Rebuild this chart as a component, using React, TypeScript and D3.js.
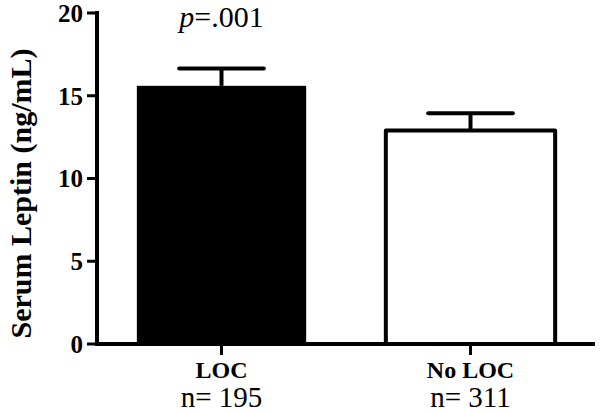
import React from 'react';
import * as d3 from 'd3';

const GROUPS = ['LOC', 'No LOC'];
const SAMPLE_SIZES = ['n= 195', 'n= 311'];
const MEANS = [15.6, 12.9];
const SEMS = [1.05, 1.05];
const FILLS = ['#000000', '#ffffff'];
const Y_TICKS = [0, 5, 10, 15, 20];
const P_LABEL = '=.001';

const W = 600, H = 413;
const m = { t: 13, r: 5, b: 69, l: 97 };
const FONT = "'Liberation Serif', 'Times New Roman', Times, serif";

export default function App() {
  const x = d3.scaleBand<string>().domain(GROUPS).range([m.l, W - m.r]).paddingInner(0.32).paddingOuter(0.16);
  const y = d3.scaleLinear().domain([0, 20]).range([H - m.b, m.t]);
  const bw = x.bandwidth();
  const capHalf = bw * 0.25;

  return (
    <svg width={W} height={H} style={{ position: 'absolute', left: 0, top: 0, background: '#fff' }} fontFamily={FONT}>
      {/* y axis label */}
      <text transform={`translate(31,${(m.t + H - m.b) / 2 + 15}) rotate(-90)`} textAnchor="middle" fontWeight="bold" fontSize={30}>
        Serum Leptin (ng/mL)
      </text>

      {/* bars with error bars */}
      {GROUPS.map((g, i) => {
        const x0 = x(g)!;
        const cx = x0 + bw / 2;
        const isFilled = FILLS[i] === '#000000';
        return (
          <g key={g}>
            <line x1={cx} x2={cx} y1={y(MEANS[i])} y2={y(MEANS[i] + SEMS[i])} stroke="#000" strokeWidth={4} />
            <line x1={cx - capHalf} x2={cx + capHalf} y1={y(MEANS[i] + SEMS[i])} y2={y(MEANS[i] + SEMS[i])}
              stroke="#000" strokeWidth={4} strokeLinecap="round" />
            <rect x={x0} y={y(MEANS[i])} width={bw} height={y(0) - y(MEANS[i])}
              fill={FILLS[i]} stroke="#000" strokeWidth={isFilled ? 0 : 4} strokeLinejoin="round" />
          </g>
        );
      })}

      {/* y axis */}
      <line x1={m.l} x2={m.l} y1={y(20) - 2} y2={y(0) + 2} stroke="#000" strokeWidth={4} />
      {Y_TICKS.map(t => (
        <g key={t}>
          <line x1={m.l - 10} x2={m.l} y1={y(t)} y2={y(t)} stroke="#000" strokeWidth={3} />
          <text x={m.l - 14} y={y(t)} dy="0.35em" textAnchor="end" fontWeight="bold" fontSize={25}>{t}</text>
        </g>
      ))}

      {/* x axis */}
      <line x1={m.l - 2} x2={W - m.r} y1={y(0)} y2={y(0)} stroke="#000" strokeWidth={4} />
      {GROUPS.map((g, i) => {
        const cx = x(g)! + bw / 2;
        return (
          <g key={g}>
            <line x1={cx} x2={cx} y1={y(0)} y2={y(0) + 11} stroke="#000" strokeWidth={3} />
            <text x={cx} y={y(0) + 34} textAnchor="middle" fontWeight="bold" fontSize={24}>{g}</text>
            <text x={cx} y={y(0) + 63} textAnchor="middle" fontSize={29}>{SAMPLE_SIZES[i]}</text>
          </g>
        );
      })}

      {/* significance */}
      <text x={x(GROUPS[0])! + bw / 2} y={27} textAnchor="middle" fontSize={30}>
        <tspan fontStyle="italic">p</tspan>{P_LABEL}
      </text>
    </svg>
  );
}
